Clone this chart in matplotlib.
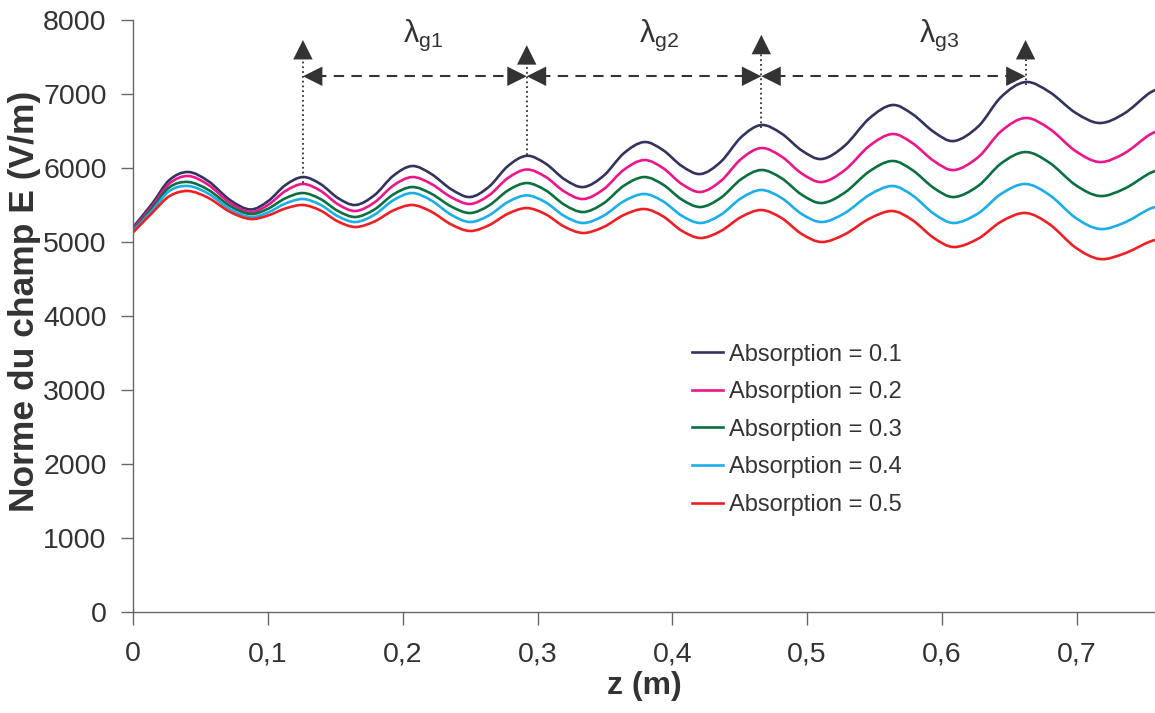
import matplotlib
matplotlib.use("Agg")
import matplotlib.pyplot as plt
from matplotlib.ticker import FuncFormatter
from matplotlib.path import Path
from matplotlib.patches import PathPatch
from matplotlib.lines import Line2D

plt.rcParams['font.family'] = ['Liberation Sans', 'DejaVu Sans']
plt.rcParams['mathtext.fontset'] = 'custom'
plt.rcParams['mathtext.rm'] = 'Liberation Sans'

# position along the guide (m)
z = [0, 0.014, 0.027, 0.041, 0.056, 0.072, 0.087, 0.100, 0.113, 0.126,
     0.139, 0.152, 0.165, 0.179, 0.193, 0.207, 0.221, 0.236, 0.250, 0.264,
     0.278, 0.292, 0.306, 0.320, 0.334, 0.349, 0.364, 0.379, 0.393, 0.407,
     0.421, 0.436, 0.451, 0.466, 0.481, 0.496, 0.511, 0.528, 0.546, 0.563,
     0.578, 0.594, 0.609, 0.627, 0.644, 0.662, 0.680, 0.699, 0.717, 0.735,
     0.752, 0.758]

# |E| (V/m) for each absorption value
e_01 = [5200, 5514, 5838, 5946, 5820, 5566, 5440, 5550, 5769, 5878,
        5784, 5594, 5500, 5632, 5895, 6027, 5922, 5713, 5608, 5747,
        6026, 6165, 6060, 5848, 5743, 5895, 6199, 6351, 6243, 6027,
        5919, 6085, 6416, 6581, 6466, 6237, 6122, 6304, 6669, 6851,
        6730, 6487, 6365, 6564, 6963, 7162, 7024, 6747, 6608, 6735,
        6988, 7054]
e_02 = [5180, 5480, 5790, 5892, 5770, 5527, 5405, 5500, 5689, 5784,
        5693, 5510, 5419, 5534, 5763, 5878, 5787, 5605, 5514, 5631,
        5864, 5980, 5880, 5681, 5581, 5713, 5976, 6108, 6000, 5784,
        5676, 5825, 6122, 6270, 6155, 5926, 5811, 5973, 6297, 6459,
        6338, 6095, 5973, 6149, 6500, 6676, 6527, 6230, 6081, 6196,
        6426, 6486]
e_03 = [5160, 5450, 5740, 5811, 5703, 5486, 5378, 5449, 5591, 5662,
        5581, 5419, 5338, 5439, 5642, 5743, 5655, 5480, 5392, 5493,
        5696, 5797, 5699, 5503, 5405, 5523, 5760, 5878, 5777, 5574,
        5473, 5598, 5848, 5973, 5862, 5639, 5527, 5669, 5953, 6095,
        5973, 5730, 5608, 5760, 6064, 6216, 6068, 5771, 5622, 5718,
        5909, 5959]
e_04 = [5150, 5420, 5690, 5757, 5652, 5443, 5338, 5399, 5520, 5581,
        5503, 5348, 5270, 5368, 5564, 5662, 5564, 5368, 5270, 5360,
        5540, 5630, 5537, 5350, 5257, 5355, 5551, 5649, 5551, 5355,
        5257, 5369, 5592, 5703, 5595, 5378, 5270, 5392, 5635, 5757,
        5632, 5382, 5257, 5389, 5652, 5784, 5632, 5328, 5176, 5260,
        5430, 5473]
e_05 = [5130, 5390, 5620, 5689, 5595, 5406, 5311, 5358, 5453, 5500,
        5426, 5277, 5203, 5277, 5426, 5500, 5412, 5237, 5149, 5227,
        5382, 5459, 5375, 5206, 5122, 5203, 5365, 5446, 5348, 5152,
        5054, 5149, 5338, 5432, 5324, 5108, 5000, 5105, 5314, 5419,
        5297, 5054, 4932, 5047, 5277, 5392, 5237, 4926, 4770, 4843,
        4989, 5027]

labels = ['Absorption = 0.1', 'Absorption = 0.2', 'Absorption = 0.3',
          'Absorption = 0.4', 'Absorption = 0.5']
colors = ['#33335f', '#ec168c', '#0b7040', '#1baee8', '#ee2024']

# guide wavelength markers
mark_z = [0.126, 0.292, 0.466, 0.662]
mark_base = [5800, 6170, 6540, 7120]
mark_tip = [7730, 7660, 7800, 7730]
span_y = 7240
lambda_text = [r'λ$_{\mathrm{g1}}$', r'λ$_{\mathrm{g2}}$', r'λ$_{\mathrm{g3}}$']
lambda_z = [0.215, 0.390, 0.598]
lambda_y = 7790


def smooth_path(xs, ys):
    # Catmull-Rom through the points, as a cubic Bezier path (like a spreadsheet "smoothed line")
    pts = list(zip(xs, ys))
    n = len(pts)
    verts, codes = [pts[0]], [Path.MOVETO]
    for i in range(n - 1):
        p0, p1 = pts[max(i - 1, 0)], pts[i]
        p2, p3 = pts[i + 1], pts[min(i + 2, n - 1)]
        c1 = (p1[0] + (p2[0] - p0[0]) / 6, p1[1] + (p2[1] - p0[1]) / 6)
        c2 = (p2[0] - (p3[0] - p1[0]) / 6, p2[1] - (p3[1] - p1[1]) / 6)
        verts += [c1, c2, p2]
        codes += [Path.CURVE4] * 3
    return Path(verts, codes)


fig = plt.figure(figsize=(11.55, 7.13), dpi=100)
ax = fig.add_axes([0.1152, 0.1417, 0.8848, 0.8302])

handles = []
for ys, c, lab in zip([e_01, e_02, e_03, e_04, e_05], colors, labels):
    ax.add_patch(PathPatch(smooth_path(z, ys), fill=False, edgecolor=c, lw=1.9,
                           joinstyle='round', capstyle='round'))
    handles.append(Line2D([], [], color=c, lw=1.9, label=lab))

dark = '#333333'
head = '-|>,head_length=0.5,head_width=0.25'
for zx, yb, yt in zip(mark_z, mark_base, mark_tip):
    ax.vlines(zx, yb, yt - 150, colors=dark, linestyles=':', lw=1.3)
    ax.annotate('', xy=(zx, yt), xytext=(zx, yt - 260),
                arrowprops=dict(arrowstyle=head, lw=0, color=dark, mutation_scale=28,
                                shrinkA=0, shrinkB=0))

for z0, z1 in zip(mark_z[:-1], mark_z[1:]):
    ax.hlines(span_y, z0 + 0.01, z1 - 0.01, colors=dark, linestyles=(0, (5, 3.5)), lw=1.5)
    ax.annotate('', xy=(z1, span_y), xytext=(z0, span_y),
                arrowprops=dict(arrowstyle='<|-|>,head_length=0.5,head_width=0.25',
                                lw=0, color=dark, mutation_scale=28,
                                shrinkA=0, shrinkB=0))

for t, zx in zip(lambda_text, lambda_z):
    ax.text(zx, lambda_y, t, fontsize=22, color=dark, ha='center', va='center')

ax.set_xlim(0, 0.758)
ax.set_ylim(0, 8000)
ax.set_xticks([0, 0.1, 0.2, 0.3, 0.4, 0.5, 0.6, 0.7])
ax.set_yticks(range(0, 8001, 1000))
ax.xaxis.set_major_formatter(FuncFormatter(lambda v, p: ('%g' % round(v, 2)).replace('.', ',')))

for s in ['top', 'right']:
    ax.spines[s].set_visible(False)
for s in ['left', 'bottom']:
    ax.spines[s].set_color('#666666')
    ax.spines[s].set_linewidth(1.0)
ax.tick_params(direction='out', length=9, width=1.0, color='#666666',
               labelsize=20.5, labelcolor=dark)
ax.tick_params(axis='x', pad=12)
ax.tick_params(axis='y', pad=10)

ax.set_xlabel('z (m)', fontsize=23, fontweight='bold', color=dark, labelpad=3)
ax.set_ylabel('Norme du champ E (V/m)', fontsize=25.5, fontweight='bold', color=dark)
ax.yaxis.set_label_coords(-0.09, 0.524)

ax.legend(handles=handles, loc='upper left', bbox_to_anchor=(0.547, 0.4535), frameon=False,
          fontsize=17, handlelength=1.3, handletextpad=0.25, labelspacing=0.66,
          borderpad=0, borderaxespad=0, labelcolor=dark)

fig.savefig('out.png', dpi=100)
